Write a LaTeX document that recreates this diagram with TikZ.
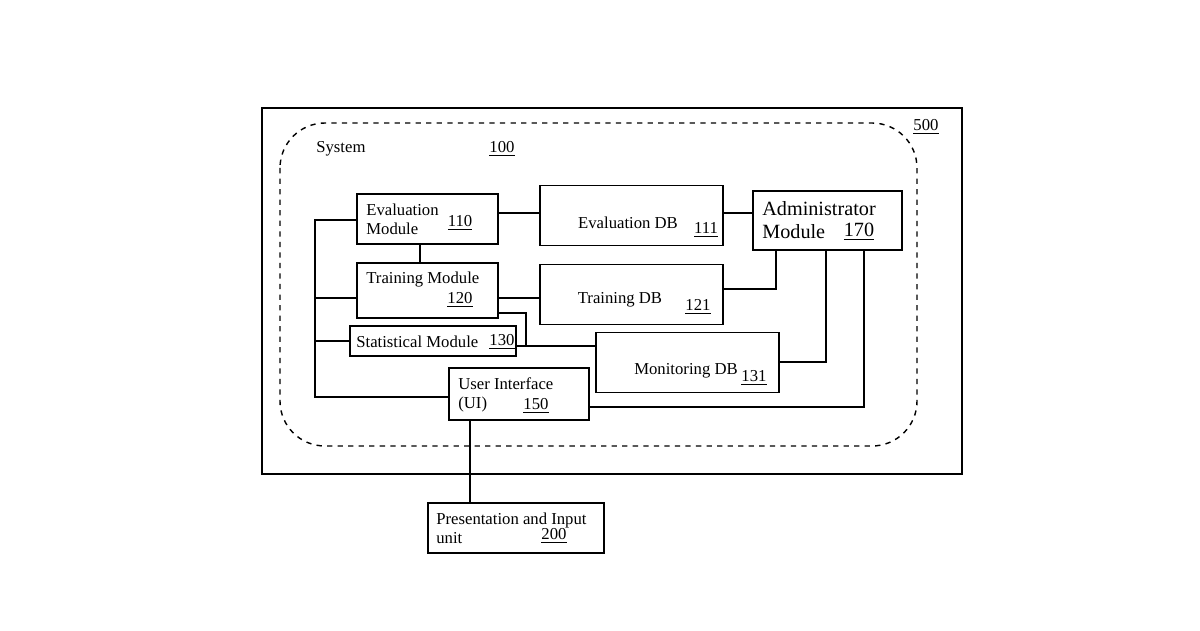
\documentclass[tikz,border=0pt]{standalone}
\usepackage{fontspec}
\setmainfont{Liberation Serif}
\usetikzlibrary{positioning, shapes.geometric}

\begin{document}
\begin{tikzpicture}[
    x=0.02cm, y=-0.02cm,
    % plain boxes and stores
    modbox/.style={
        rectangle,
        draw=black,
        thick,
        inner sep=0pt
    },
    dbstore/.style={
        cylinder,
        shape border rotate=90,
        draw=black,
        thick,
        aspect=0.25,
        minimum width=3.66cm,
        minimum height=1.2cm,
        inner sep=0pt
    },
    txt/.style={
        font=\fontsize{9.5}{11}\selectfont,
        anchor=west,
        align=left,
        inner sep=0pt
    },
    ref/.style={
        font=\fontsize{9.5}{11}\selectfont,
        inner sep=0pt
    },
    wire/.style={
        thick
    }
]
\useasboundingbox (0,0) rectangle (1200,630);

% === Frames ===
\node[modbox, minimum width=14cm, minimum height=7.32cm] (sys) at (612,291) {};
\draw[thick, dashed, rounded corners=0.9cm] (280,123) rectangle (917,446);
\node[ref] (n500) at (926,127) {\underline{500}};
\node[txt] (system) at (316,149) {System};
\node[ref] (n100) at (502,149) {\underline{100}};

% === Modules ===
\node[modbox, minimum width=2.82cm, minimum height=1cm] (eval) at (427.5,219) {};
\node[txt] at (366,219) {Evaluation\\Module};
\node[ref] at (460,223) {\underline{110}};

\node[modbox, minimum width=2.82cm, minimum height=1.1cm] (train) at (427.5,290.5) {};
\node[txt] at (366,279) {Training Module};
\node[ref] at (460,300) {\underline{120}};

\node[modbox, minimum width=3.32cm, minimum height=0.6cm] (stat) at (433,341) {};
\node[txt] at (356,342) {Statistical Module};
\node[ref] at (502,342) {\underline{130}};

\node[modbox, minimum width=2.8cm, minimum height=1.04cm] (ui) at (519,394) {};
\node[txt] at (458,395) {User Interface\\(UI)};
\node[ref] at (536,406) {\underline{150}};

\node[modbox, minimum width=2.98cm, minimum height=1.18cm] (admin) at (827.5,220.5) {};
\node[txt, font=\fontsize{11.5}{13}\selectfont] at (762,220) {Administrator\\Module};
\node[ref, font=\fontsize{11.5}{13}\selectfont] at (859,232) {\underline{170}};

\node[modbox, minimum width=3.52cm, minimum height=1cm] (pres) at (516,528) {};
\node[txt] at (436,528) {Presentation and Input\\unit};
\node[ref] at (554,536) {\underline{200}};

% === Stores ===
\node[dbstore] (evaldb) at (631.5,216) {};
\node[ref] at (628,223) {Evaluation DB};
\node[ref] at (706,230) {\underline{111}};

\node[dbstore] (traindb) at (631.5,295) {};
\node[ref] at (620,300) {Training DB};
\node[ref] at (698,307) {\underline{121}};

\node[dbstore] (mondb) at (687.5,363) {};
\node[ref] at (686,371) {Monitoring DB};
\node[ref] at (754,378) {\underline{131}};

% === Wires ===
\coordinate (busTop) at (315,220);
\draw[wire] (eval.west |- busTop) -- (busTop) -- (315,397) -- (ui.west |- 0,397);
\draw[wire] (315,298) -- (train.west |- 0,298);
\draw[wire] (315,341) -- (stat.west);
\draw[wire] (eval.south -| 420,0) -- (train.north -| 420,0);
\draw[wire] (eval.east |- 0,213) -- (evaldb.west |- 0,213);
\draw[wire] (evaldb.east |- 0,213) -- (admin.west |- 0,213);
\draw[wire] (train.east |- 0,298) -- (traindb.west |- 0,298);
\draw[wire] (traindb.east |- 0,289) -- (776,289) -- (admin.south -| 776,0);
\draw[wire] (train.east |- 0,313) -- (526,313) -- (526,346);
\draw[wire] (stat.east |- 0,346) -- (mondb.west |- 0,346);
\draw[wire] (admin.south -| 826,0) -- (826,362) -- (mondb.east |- 0,362);
\draw[wire] (admin.south -| 864,0) -- (864,407) -- (ui.east |- 0,407);
\draw[wire] (ui.south -| 470,0) -- (pres.north -| 470,0);

\end{tikzpicture}
\end{document}
